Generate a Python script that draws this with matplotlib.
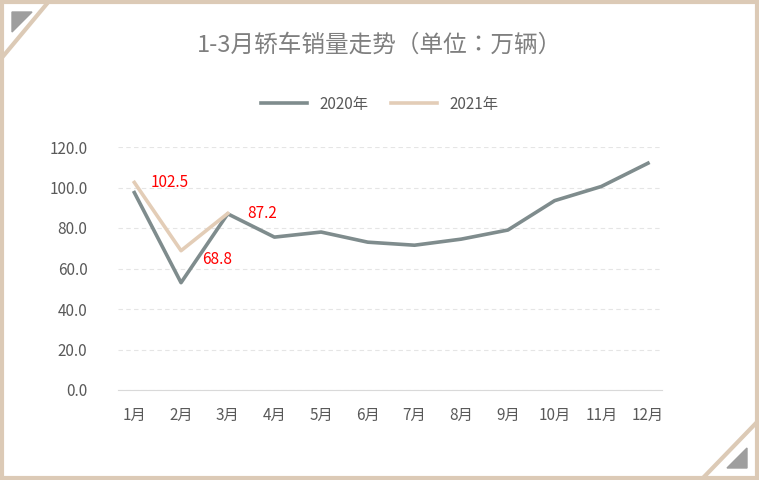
import matplotlib.pyplot as plt
from matplotlib.patches import Polygon, Rectangle
from matplotlib.lines import Line2D

plt.rcParams['font.family'] = ['sans-serif']
plt.rcParams['font.sans-serif'] = ['Noto Sans CJK SC', 'Noto Sans CJK JP', 'Noto Sans CJK TC',
                                   'Noto Sans CJK KR', 'DejaVu Sans']

months = ['1月', '2月', '3月', '4月', '5月', '6月', '7月', '8月', '9月', '10月', '11月', '12月']
sales_2020 = [97.5, 53.0, 87.0, 75.5, 78.0, 73.0, 71.5, 74.5, 79.0, 93.5, 100.5, 112.0]
sales_2021 = [102.5, 68.8, 87.2]
yticks = [0, 20, 40, 60, 80, 100, 120]

W, H = 759, 480
fig = plt.figure(figsize=(W / 100, H / 100), dpi=100)
ax = fig.add_axes([118 / W, 1 - 390 / H, (662 - 118) / W, (390 - 147) / H])

x = range(len(months))
ax.plot(x, sales_2020, color='#7f8c8d', lw=2.6, label='2020年')
ax.plot(range(len(sales_2021)), sales_2021, color='#e3cdb7', lw=2.6, label='2021年')

offsets = [(12, 0), (15, -6), (14, 0)]
for i, (v, off) in enumerate(zip(sales_2021, offsets)):
    ax.annotate(f'{v:.1f}', (i, v), textcoords='offset points', xytext=off,
                color='red', fontsize=11, ha='left', va='center')

ax.set_xlim(-0.35, 11.3)
ax.set_ylim(0, 120)
ax.set_yticks(yticks)
ax.set_yticklabels([f'{t:.1f}' for t in yticks], color='#595959', fontsize=11)
ax.set_xticks(list(x))
ax.set_xticklabels(months, color='#595959', fontsize=11)
ax.tick_params(length=0, pad=12)
ax.tick_params(axis='y', pad=22)
for s in ['top', 'right', 'left']:
    ax.spines[s].set_visible(False)
ax.spines['bottom'].set_color('#d9d9d9')
ax.yaxis.grid(True, color='#e5e5e5', ls=(0, (4, 3)), lw=0.8)
ax.set_axisbelow(True)

fig.text(0.5, 1 - 45 / H, '1-3月轿车销量走势（单位：万辆）', ha='center', va='center',
         fontsize=17, color='#7f7f7f')
handles = [Line2D([], [], color='#7f8c8d', lw=2.6), Line2D([], [], color='#e3cdb7', lw=2.6)]
fig.legend(handles, ['2020年', '2021年'], loc='center', bbox_to_anchor=(0.5, 1 - 104 / H),
           ncol=2, frameon=False, fontsize=11, labelcolor='#595959', handlelength=3,
           columnspacing=1.5)

# border and corner decorations
fig.add_artist(Rectangle((2 / W, 2 / H), 1 - 4 / W, 1 - 4 / H, transform=fig.transFigure,
                         fill=False, ec='#dccab6', lw=3))
fig.add_artist(Polygon([(12 / W, 1 - 12 / H), (32 / W, 1 - 12 / H), (12 / W, 1 - 32 / H)],
                       transform=fig.transFigure, color='#9e9e9e'))
fig.add_artist(Line2D([0, 50 / W], [1 - 60 / H, 1], transform=fig.transFigure,
                      color='#dccab6', lw=3))
fig.add_artist(Polygon([(1 - 12 / W, 12 / H), (1 - 32 / W, 12 / H), (1 - 12 / W, 32 / H)],
                       transform=fig.transFigure, color='#9e9e9e'))
fig.add_artist(Line2D([1 - 58 / W, 1], [0, 60 / H], transform=fig.transFigure,
                      color='#dccab6', lw=3))

fig.savefig('out.png', dpi=100)
